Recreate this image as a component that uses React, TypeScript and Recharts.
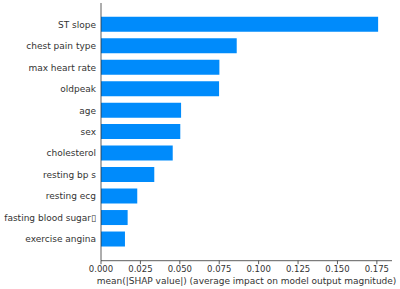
import React from 'react';
import { BarChart, Bar, XAxis, YAxis } from 'recharts';

// Feature names, top to bottom
const features = [
  'ST slope',
  'chest pain type',
  'max heart rate',
  'oldpeak',
  'age',
  'sex',
  'cholesterol',
  'resting bp s',
  'resting ecg',
  'fasting blood sugar\u25AF',
  'exercise angina',
];

// mean(|SHAP value|) per feature
const meanAbsShap = [0.1758, 0.0861, 0.0751, 0.0749, 0.0508, 0.0503, 0.0455, 0.0338, 0.023, 0.0169, 0.0152];

const xTicks = [0, 0.025, 0.05, 0.075, 0.1, 0.125, 0.15, 0.175];

const xTitle = 'mean(|SHAP value|) (average impact on model output magnitude)';

const data = features.map((name, i) => ({ name, value: meanAbsShap[i] }));

const FONT = '"DejaVu Sans", sans-serif';
const TEXT = '#333333';

const FeatureTick = (props: any) => {
  const { x, y, payload } = props;
  return (
    <text
      x={x}
      y={y}
      dy="0.35em"
      textAnchor="end"
      fill={TEXT}
      fontSize={9}
      fontFamily={FONT}
    >
      {payload.value}
    </text>
  );
};

const ValueTick = (props: any) => {
  const { x, y, payload } = props;
  return (
    <text
      x={x}
      y={y}
      dy="0.75em"
      textAnchor="middle"
      fill={TEXT}
      fontSize={8.5}
      fontFamily={FONT}
    >
      {Number(payload.value).toFixed(3)}
    </text>
  );
};

const TitleLabel = (props: any) => {
  const { viewBox } = props;
  const cx = viewBox.x + viewBox.width / 2;
  return (
    <text
      x={cx}
      y={284}
      textAnchor="middle"
      fill={TEXT}
      fontSize={9}
      fontFamily={FONT}
    >
      {xTitle}
    </text>
  );
};

export default function App() {
  return (
    <div style={{ position: 'absolute', left: 0, top: 0, background: '#fff' }}>
      <BarChart
        width={400}
        height={289}
        data={data}
        layout="vertical"
        margin={{ top: 3, right: 8, bottom: 0, left: 0 }}
      >
        <XAxis
          type="number"
          domain={[0, 0.1846]}
          ticks={xTicks}
          allowDataOverflow
          height={28.3}
          tick={<ValueTick />}
          tickSize={3.5}
          tickMargin={1.5}
          stroke={TEXT}
          axisLine={{ stroke: TEXT, strokeWidth: 0.8 }}
          tickLine={{ stroke: TEXT, strokeWidth: 0.8 }}
          label={<TitleLabel />}
        />
        <YAxis
          type="category"
          dataKey="name"
          width={101}
          padding={{ top: 10.7, bottom: 10.7 }}
          tickLine={false}
          tickSize={0}
          tickMargin={5}
          interval={0}
          axisLine={{ stroke: TEXT, strokeWidth: 0.8 }}
          tick={<FeatureTick />}
        />
        <Bar dataKey="value" fill="#008bfb" barSize={15} isAnimationActive={false} />
      </BarChart>
    </div>
  );
}
